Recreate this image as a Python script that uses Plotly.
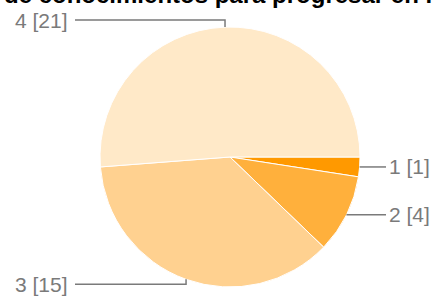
import math
import plotly.graph_objects as go

categories = ["1", "2", "3", "4"]
counts = [1, 4, 15, 21]
colors = ["#ff9900", "#ffb03c", "#ffd190", "#ffe9c8"]
title_text = "de conocimientos para progresar en l"

W, H = 436, 303
CX, CY, R = 230, 157, 130  # pie centre / radius in pixels (layout)

fig = go.Figure(go.Pie(
    labels=categories, values=counts, sort=False, direction="clockwise",
    rotation=90, textinfo="none", hoverinfo="label+value",
    marker=dict(colors=colors, line=dict(color="#ffffff", width=1)),
    domain=dict(x=[(CX - R) / W, (CX + R) / W], y=[(H - CY - R) / H, (H - CY + R) / H]),
    showlegend=False,
))

def px(x):
    return x / W

def py(y):
    return 1 - y / H

shapes = []
annotations = []
total = sum(counts)
cum = 0
label_font = dict(family="Liberation Sans, Arial", size=21, color="#7a7a7a")
for cat, v in zip(categories, counts):
    mid = (cum + v / 2) / total * 2 * math.pi  # clockwise from 3 o'clock
    cum += v
    ex = CX + R * math.cos(mid)
    ey = CY + R * math.sin(mid)
    label = f"{cat} [{v}]"
    if math.cos(mid) >= 0.3:
        shapes.append(dict(type="path", xref="paper", yref="paper",
                           path=f"M {px(ex)} {py(ey)} L {px(386)} {py(ey)}",
                           line=dict(color="#7a7a7a", width=1.5)))
        annotations.append(dict(x=px(387), y=py(ey), xref="paper", yref="paper",
                                text=label, showarrow=False, xanchor="left", yanchor="middle",
                                font=label_font))
    else:
        ly = ey - 7 if math.sin(mid) < 0 else ey + 5
        shapes.append(dict(type="path", xref="paper", yref="paper",
                           path=f"M {px(ex)} {py(ey)} L {px(ex)} {py(ly)} L {px(75)} {py(ly)}",
                           line=dict(color="#7a7a7a", width=1.5)))
        annotations.append(dict(x=px(70), y=py(ly), xref="paper", yref="paper",
                                text=label, showarrow=False, xanchor="right", yanchor="middle",
                                font=label_font))

annotations.append(dict(x=0.5, y=1, xref="paper", yref="paper", text=f"<b>{title_text}</b>",
                        showarrow=False, xanchor="center", yanchor="bottom", yshift=-10,
                        font=dict(family="Liberation Sans, Arial", size=24, color="#000000")))

fig.update_layout(
    width=W, height=H, margin=dict(l=0, r=0, t=0, b=0),
    paper_bgcolor="#ffffff", plot_bgcolor="#ffffff",
    shapes=shapes, annotations=annotations,
)

fig.write_html("out.html", config={"displayModeBar": False},
               post_script="document.body.style.margin='0';document.body.style.overflow='hidden';")
